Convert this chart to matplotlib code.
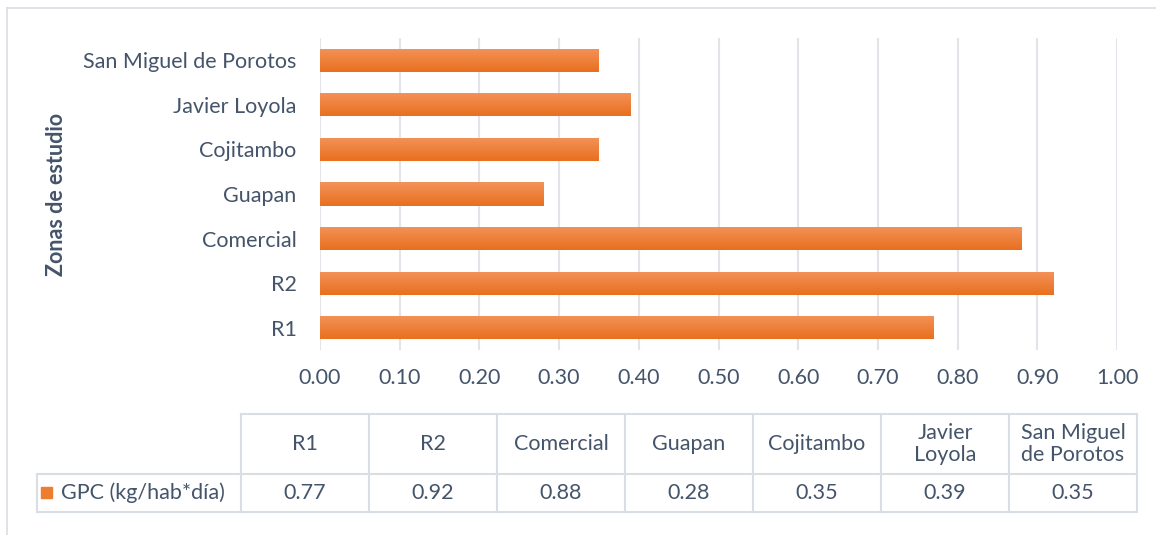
import numpy as np
import matplotlib
matplotlib.use('Agg')
import matplotlib.pyplot as plt
from matplotlib.colors import LinearSegmentedColormap

# zonas de estudio y generacion per capita (kg/hab*dia)
zonas = ['R1', 'R2', 'Comercial', 'Guapan', 'Cojitambo', 'Javier Loyola', 'San Miguel de Porotos']
zonas_tabla = ['R1', 'R2', 'Comercial', 'Guapan', 'Cojitambo', 'Javier\nLoyola', 'San Miguel\nde Porotos']
gpc = [0.77, 0.92, 0.88, 0.28, 0.35, 0.39, 0.35]
serie = 'GPC (kg/hab*día)'
xticks = np.arange(0, 1.01, 0.1)

texto = '#44546A'
rejilla = '#E1E5EA'
naranja = '#ED7D31'
degradado = LinearSegmentedColormap.from_list('naranja', ['#E8701E', '#F3925A'])
fs = 15.5

plt.rcParams['font.family'] = ['Lato', 'DejaVu Sans']

fig = plt.figure(figsize=(11.56, 5.35), dpi=100)

# marco exterior (solo se ven los bordes izquierdo y superior)
fig.add_artist(plt.Line2D([7/1156, 7/1156], [0, 1 - 8/535], color='#D9DDE3', lw=1.2))
fig.add_artist(plt.Line2D([7/1156, 1], [1 - 8/535, 1 - 8/535], color='#D9DDE3', lw=1.2))

# grafico de barras horizontales
ax = fig.add_axes([320/1156, 1 - 350/535, 797/1156, 312/535])
y = np.arange(len(zonas))
barras = ax.barh(y, gpc, height=0.52, color=naranja, zorder=2)
grad = np.linspace(0, 1, 50).reshape(-1, 1)
for b in barras:
    x0, y0 = b.get_x(), b.get_y()
    im = ax.imshow(grad, cmap=degradado, aspect='auto', origin='lower',
                   extent=[x0, x0 + b.get_width(), y0, y0 + b.get_height()], zorder=3)
    im.set_clip_path(b)

ax.set_xlim(0, 1.0)
ax.set_ylim(-0.5, len(zonas) - 0.5)
ax.set_xticks(xticks)
ax.set_xticklabels(['%.2f' % v for v in xticks])
ax.set_yticks(y)
ax.set_yticklabels(zonas)
ax.grid(axis='x', color=rejilla, lw=1.5, zorder=0)
for s in ax.spines.values():
    s.set_visible(False)
ax.tick_params(axis='both', length=0, labelsize=fs, colors=texto)
ax.tick_params(axis='x', pad=13)
ax.tick_params(axis='y', pad=17)
fig.text(57/1156, 1 - 194/535, 'Zonas de estudio', rotation=90, ha='center', va='center',
         fontsize=fs, fontweight='bold', color=texto)

# tabla de datos debajo del grafico
tab = fig.add_axes([0, 0, 1, 1])
tab.set_xlim(0, 1156)
tab.set_ylim(535, 0)
tab.axis('off')
cols = [241 + 128 * i for i in range(len(zonas) + 1)]
top, mid, bot, left = 414, 474, 512, 37
lc = '#D9DEE4'
tab.plot([cols[0], cols[-1]], [top, top], color=lc, lw=1.5)
tab.plot([left, cols[-1]], [mid, mid], color=lc, lw=1.5)
tab.plot([left, cols[-1]], [bot, bot], color=lc, lw=1.5)
tab.plot([left, left], [mid, bot], color=lc, lw=1.5)
for c in cols:
    tab.plot([c, c], [top, bot], color=lc, lw=1.5)
for i, (z, v) in enumerate(zip(zonas_tabla, gpc)):
    xc = (cols[i] + cols[i + 1]) / 2
    tab.text(xc, (top + mid) / 2, z, ha='center', va='center', fontsize=fs,
             color=texto, linespacing=1.1)
    tab.text(xc, (mid + bot) / 2, '%.2f' % v, ha='center', va='center', fontsize=fs, color=texto)
tab.add_patch(plt.Rectangle((41, 487), 11, 11, color=naranja))
tab.text(61, (mid + bot) / 2, serie, ha='left', va='center', fontsize=fs, color=texto)

fig.savefig('out.png', dpi=100)
